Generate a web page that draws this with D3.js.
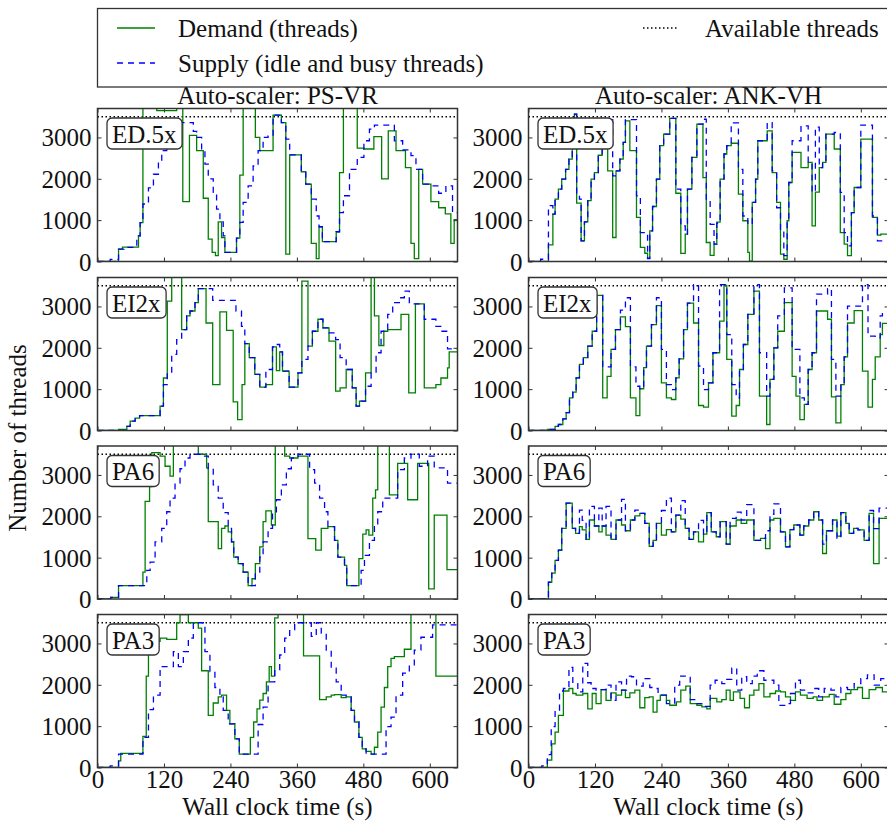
<!DOCTYPE html>
<html>
<head>
<meta charset="utf-8">
<title>Thread demand and supply</title>
<script src="https://cdnjs.cloudflare.com/ajax/libs/d3/7.8.5/d3.min.js"></script>
<style>
  html, body { margin: 0; background: #fff; }
  svg text { font-family: "Liberation Serif", "Times New Roman", serif; fill: #111; }
</style>
</head>
<body>
<svg id="chart" width="887" height="823"></svg>
<script>
// axis settings
var X_MAX = 650, Y_MAX = 3700, AVAILABLE = 3500;
var xTicks = [0, 120, 240, 360, 480, 600];
var yTicks = [0, 1000, 2000, 3000];
var scalers = ["PS-VR", "ANK-VH"];
var workloads = ["ED.5x", "EI2x", "PA6", "PA3"];

// [time (s), threads] change points of each step series
var psvrEd5xDemand = [[0,0],[38,300],[45,350],[74,620],[77,940],[82,4000],[107,3650],[143,4000],[154,1450],[166,3050],[179,2680],[191,1530],[200,540],[207,220],[213,140],[218,960],[224,580],[230,220],[251,565],[257,2090],[263,4000],[285,3000],[293,2680],[317,3540],[332,3360],[340,180],[347,2580],[368,2170],[376,1870],[386,440],[395,70],[400,840],[406,480],[431,720],[437,2150],[444,4000],[469,2740],[481,2720],[499,3020],[513,2000],[525,3160],[539,2680],[556,2270],[566,440],[572,70],[580,2230],[587,1870],[602,1450],[616,1300],[628,1150],[638,440],[644,1010]];
var psvrEd5xSupply = [[0,0],[23,50],[38,300],[48,340],[71,620],[77,940],[82,1390],[92,1780],[101,2110],[110,2435],[116,2680],[125,3000],[136,3360],[173,3145],[179,3000],[188,2680],[194,2355],[200,2000],[209,1670],[215,1265],[221,960],[227,620],[230,220],[251,565],[257,945],[263,1430],[272,1830],[281,2310],[290,2680],[299,3000],[308,3040],[317,3540],[332,3360],[340,2960],[347,2580],[368,2170],[376,1870],[386,1510],[395,1100],[400,840],[406,480],[431,720],[437,1180],[444,1590],[455,2230],[469,2520],[481,2920],[491,3200],[500,3300],[536,2920],[551,2700],[566,2560],[575,2230],[587,1870],[602,1830],[616,1650],[629,1830],[641,1180]];

var psvrEi2xDemand = [[0,0],[38,25],[53,100],[59,225],[68,300],[76,360],[113,590],[119,1270],[126,3130],[134,4000],[152,2440],[161,2770],[167,2890],[176,3090],[182,3430],[196,2600],[208,1110],[221,2870],[233,2420],[245,690],[253,265],[261,1110],[266,2100],[274,1760],[284,1355],[293,1050],[304,1110],[316,2020],[323,1450],[329,1900],[334,1435],[346,1050],[362,1395],[369,3610],[380,2040],[388,2400],[398,2690],[407,2480],[418,2160],[430,950],[438,1030],[449,1475],[460,1030],[467,590],[473,710],[484,1395],[494,4000],[500,2770],[508,2055],[517,2400],[524,2440],[548,2810],[562,910],[574,3060],[590,1030],[611,1110],[620,1270],[632,1515],[635,1900]];
var psvrEi2xSupply = [[0,0],[53,100],[59,225],[68,300],[76,360],[113,590],[119,1110],[126,1395],[134,1840],[143,2200],[152,2440],[161,2770],[167,2890],[176,3090],[182,3430],[208,3145],[250,2890],[260,2520],[266,2100],[274,1760],[284,1355],[293,1050],[304,1475],[316,2020],[323,2080],[329,1900],[334,1435],[346,1050],[362,1395],[369,1720],[380,2040],[388,2400],[398,2690],[407,2480],[418,2360],[430,2200],[438,1760],[449,1475],[460,1030],[467,590],[473,710],[484,1070],[494,1395],[503,1880],[512,2400],[524,2810],[533,3090],[545,3210],[554,3370],[563,3060],[590,2690],[611,2520],[620,2400],[632,1975]];

var psvrPa6Demand = [[0,0],[24,40],[38,325],[82,650],[86,2360],[94,2720],[98,3540],[113,3455],[122,3210],[131,2970],[137,4000],[182,3500],[197,3170],[200,1870],[218,1220],[224,1710],[230,1765],[236,1625],[242,1380],[246,1015],[254,855],[263,650],[272,325],[279,490],[285,855],[293,1260],[299,1870],[304,2130],[314,1790],[321,4000],[338,3455],[347,3410],[362,3455],[380,1460],[394,1180],[404,1710],[416,1750],[428,1420],[434,1015],[446,815],[450,325],[472,975],[479,1570],[485,1670],[490,1545],[497,2440],[502,2640],[506,4000],[527,2520],[542,3280],[560,2400],[578,3280],[598,245],[608,2030],[631,710]];
var psvrPa6Supply = [[0,0],[24,40],[38,325],[89,690],[95,890],[104,1380],[116,1710],[125,2110],[131,2440],[140,2800],[149,3150],[158,3410],[167,3500],[185,3455],[200,3150],[209,2760],[218,2440],[227,2090],[236,1710],[242,1380],[246,1015],[254,855],[263,650],[272,325],[285,610],[293,1015],[299,1380],[308,1710],[316,2070],[323,2400],[332,2760],[341,3150],[350,3410],[362,3500],[383,3130],[392,2800],[401,2440],[410,2110],[416,1750],[428,1420],[434,1015],[446,815],[450,325],[476,690],[482,1055],[491,1420],[500,1750],[506,2110],[515,2440],[542,3130],[554,3410],[566,3500],[581,3210],[596,3455],[608,3170],[632,2800]];

var psvrPa3Demand = [[0,0],[38,160],[42,340],[82,755],[88,2210],[92,3330],[98,3050],[113,3130],[125,3100],[143,3500],[149,3700],[164,3500],[182,3370],[188,2340],[200,1260],[209,1560],[218,1710],[224,1750],[233,1380],[239,1055],[248,690],[256,325],[276,730],[282,1100],[288,1420],[293,1630],[299,1790],[305,2070],[310,2440],[314,2210],[320,3620],[326,4000],[372,2700],[401,1640],[413,1710],[422,1750],[428,1760],[440,1690],[449,1710],[458,1380],[464,1100],[472,730],[478,450],[485,390],[494,325],[500,490],[506,855],[512,1460],[518,1935],[524,2440],[530,2640],[536,2680],[554,2860],[566,4000],[611,2210]];
var psvrPa3Supply = [[0,0],[23,40],[38,325],[82,730],[92,1400],[101,1750],[113,2440],[137,2800],[146,2440],[155,2800],[164,3130],[173,3500],[194,2800],[203,2320],[212,1935],[221,1710],[227,1380],[236,1055],[248,690],[256,325],[290,1040],[299,1460],[308,2070],[320,2360],[329,2720],[338,3130],[347,3330],[356,3500],[386,3170],[395,3500],[404,3250],[413,2840],[422,2400],[431,2070],[440,1750],[449,1710],[458,1380],[464,1100],[472,730],[478,450],[485,325],[521,990],[530,1220],[539,1750],[551,2280],[563,2480],[572,2840],[584,3150],[605,3450]];

var ankvhEd5xDemand = [[0,0],[36,400],[44,1145],[48,1510],[54,1750],[60,1990],[67,2230],[73,2475],[79,2800],[83,3565],[87,1410],[95,500],[101,960],[107,1470],[113,1990],[119,2150],[126,2570],[133,2840],[139,3120],[143,2190],[152,580],[158,2190],[165,2475],[171,2880],[175,3400],[183,2680],[195,1065],[202,340],[210,200],[215,80],[219,740],[224,1330],[231,1990],[237,2800],[244,3080],[255,3460],[266,1650],[275,195],[283,660],[287,1750],[295,2520],[304,3320],[315,2030],[321,460],[328,150],[335,420],[340,950],[346,1990],[353,2600],[358,2800],[366,2860],[379,1630],[387,985],[396,220],[399,10],[404,1430],[410,1990],[414,2920],[431,3160],[440,2150],[448,1430],[455,180],[461,55],[467,985],[470,1910],[476,2640],[492,2270],[505,2395],[512,860],[518,1680],[525,2270],[531,2395],[537,3080],[552,2720],[563,700],[570,420],[576,140],[583,1180],[588,1790],[600,2960],[621,1065],[630,640],[636,660]];
var ankvhEd5xSupply = [[0,0],[22,55],[36,1350],[44,1145],[48,1510],[54,1750],[60,1990],[67,2230],[73,2475],[79,2800],[83,3565],[87,1590],[92,1510],[95,500],[101,960],[107,1470],[113,1990],[119,2150],[126,2570],[133,2840],[139,3120],[143,3430],[152,2070],[158,2190],[165,2475],[171,2880],[175,3430],[195,1590],[202,700],[215,70],[219,740],[224,1330],[231,1990],[237,2800],[244,3080],[255,3460],[266,1750],[275,860],[283,660],[287,1750],[295,2520],[304,3320],[315,3440],[321,1510],[328,900],[335,420],[340,925],[346,1990],[353,2600],[358,2800],[366,3350],[379,2230],[387,1100],[396,900],[404,1430],[410,1990],[414,2920],[431,3360],[440,2190],[448,1300],[455,740],[461,140],[467,985],[470,1910],[476,2920],[492,3280],[505,2350],[512,1680],[518,3250],[525,2270],[531,2395],[537,3080],[552,3120],[563,1670],[570,700],[576,380],[583,1180],[588,1790],[600,3300],[621,1100],[630,500]];

var ankvhEi2xDemand = [[0,0],[34,25],[48,100],[54,145],[62,280],[68,430],[74,790],[80,930],[86,1275],[92,1600],[99,1760],[107,2040],[115,2400],[123,3270],[134,790],[142,1310],[149,1960],[157,2440],[166,2750],[175,2510],[184,790],[194,360],[201,1010],[208,1520],[213,2040],[222,2560],[231,3020],[240,1150],[249,790],[258,750],[266,1275],[272,1730],[280,2440],[287,3080],[298,2600],[307,605],[316,565],[325,1150],[333,1880],[345,2645],[353,3510],[358,1720],[367,350],[375,605],[381,1475],[388,2080],[396,2810],[407,3370],[417,830],[430,145],[436,1235],[443,2000],[450,2400],[462,3090],[476,1310],[483,830],[490,265],[498,630],[505,1475],[512,1880],[520,2890],[540,2690],[547,815],[555,185],[564,1110],[570,1780],[576,2600],[588,2900],[603,1435],[613,565],[621,1235],[626,1780],[635,2320],[639,2590]];
var ankvhEi2xSupply = [[0,0],[34,25],[48,100],[54,145],[62,280],[68,430],[74,790],[80,930],[86,1275],[92,1600],[99,1760],[107,2040],[115,2400],[123,3270],[134,1540],[149,1960],[157,2440],[166,2910],[175,3210],[184,1540],[194,1070],[201,1010],[208,1520],[213,2040],[222,2560],[231,3210],[240,1960],[249,1110],[258,990],[266,1275],[272,1730],[280,2440],[287,3080],[298,3530],[307,1560],[316,990],[325,1150],[333,1880],[345,3530],[358,2320],[367,1110],[375,790],[381,1475],[388,2080],[396,2810],[407,3530],[417,1880],[430,830],[436,1235],[443,2000],[450,2770],[462,3450],[476,1960],[490,790],[498,630],[505,1475],[512,1880],[520,3300],[540,3430],[547,1720],[555,830],[564,1110],[570,1780],[576,3010],[603,3530],[613,2280],[626,2240],[635,2770],[639,2850]];

var ankvhPa6Demand = [[0,0],[36,405],[42,625],[48,935],[54,1180],[60,1710],[68,2320],[79,1710],[85,1585],[92,1750],[97,1670],[104,1440],[110,1910],[119,1765],[127,1625],[133,1765],[140,1545],[149,1440],[158,1910],[168,1790],[175,1650],[184,1910],[192,2010],[201,2070],[210,1830],[218,1275],[225,1420],[231,1830],[240,1545],[249,1680],[258,1625],[266,2030],[275,1930],[283,1710],[290,1440],[298,1625],[307,1380],[316,1570],[322,2090],[330,1625],[339,1505],[346,1870],[357,1325],[364,1765],[375,1910],[384,1830],[394,1910],[407,1420],[419,1465],[428,1220],[436,1910],[443,1950],[455,1625],[464,1260],[472,1680],[479,1790],[490,1545],[497,1765],[506,1910],[515,2110],[524,1910],[531,1100],[538,1650],[549,1910],[557,1520],[564,2090],[573,1830],[579,1585],[587,1710],[595,1670],[606,1420],[615,2070],[623,855],[633,1950]];
var ankvhPa6Supply = [[0,0],[36,405],[42,625],[48,935],[54,1180],[60,1710],[68,2320],[79,1710],[85,1585],[92,2150],[97,1900],[104,1440],[110,2240],[119,1765],[127,2200],[133,1765],[140,2240],[149,1440],[158,1910],[168,2410],[175,1650],[184,1910],[192,2150],[201,2070],[210,1830],[218,1275],[225,1420],[231,1830],[240,2140],[249,2440],[258,1625],[266,2030],[275,2380],[283,1710],[290,1440],[298,1625],[307,1900],[316,1570],[322,2090],[330,1625],[339,1505],[346,1870],[357,1325],[364,1950],[375,2100],[384,1910],[394,2280],[407,1420],[419,1465],[428,1650],[436,2050],[443,2300],[455,1625],[464,1260],[472,1680],[479,1790],[490,1545],[497,1765],[506,1910],[515,2110],[524,1910],[531,1325],[538,1650],[549,1910],[557,1465],[564,2090],[573,1830],[579,1585],[587,1710],[595,1670],[606,1420],[615,2140],[623,1700],[633,2200]];

var ankvhPa3Demand = [[0,0],[34,180],[42,570],[48,855],[54,1260],[63,1850],[73,1910],[80,1790],[86,1750],[98,1790],[107,1420],[115,1790],[122,1545],[131,1885],[140,1625],[149,1805],[158,1750],[168,1870],[175,1690],[183,1805],[192,1870],[201,1445],[210,1690],[218,1710],[225,1340],[232,1625],[238,1750],[249,1625],[255,1505],[267,1585],[275,1870],[284,1970],[292,1545],[304,1505],[313,1465],[322,1420],[328,1670],[340,1585],[349,1640],[357,1870],[364,1625],[370,1830],[382,1670],[390,1445],[399,1750],[407,1870],[416,2030],[425,1710],[436,1790],[446,1850],[455,1830],[464,1710],[473,1625],[482,1830],[491,1750],[503,1670],[514,1710],[521,1625],[531,1710],[543,1770],[552,1530],[564,1640],[573,1790],[582,1885],[594,1935],[603,1670],[615,1885],[627,1935],[639,1830]];
var ankvhPa3Supply = [[0,0],[24,40],[34,310],[41,990],[48,1380],[56,1850],[63,1910],[73,2420],[80,2030],[89,1830],[98,2520],[107,2050],[113,1910],[122,1870],[131,1885],[140,1990],[149,1625],[158,2070],[168,1870],[177,2210],[186,2195],[195,1970],[207,2150],[219,1935],[228,1910],[234,1750],[249,1545],[264,1990],[273,2210],[283,2180],[292,1640],[304,1545],[316,1480],[328,1990],[337,2110],[349,2030],[358,2130],[367,2400],[376,1870],[385,2195],[394,2030],[404,2210],[413,2340],[425,2110],[434,2110],[443,1990],[452,1500],[464,1545],[473,1790],[482,2110],[491,1870],[503,1805],[515,1910],[524,1710],[534,1910],[546,1870],[555,1710],[564,1935],[576,1885],[588,2030],[600,2150],[612,2240],[624,1990],[636,2150]];

var demandSeries = [
  [psvrEd5xDemand, ankvhEd5xDemand],
  [psvrEi2xDemand, ankvhEi2xDemand],
  [psvrPa6Demand, ankvhPa6Demand],
  [psvrPa3Demand, ankvhPa3Demand]
];
var supplySeries = [
  [psvrEd5xSupply, ankvhEd5xSupply],
  [psvrEi2xSupply, ankvhEi2xSupply],
  [psvrPa6Supply, ankvhPa6Supply],
  [psvrPa3Supply, ankvhPa3Supply]
];

var svg = d3.select('#chart');
var colLeft = [97.5, 528.5], colWidth = 360;
var rowTop = [108.5, 277.5, 446, 614.5], rowHeight = 153;
var ink = '#333';
var FS = 25;

var x = d3.scaleLinear().domain([0, X_MAX]).range([0, colWidth]);
var y = d3.scaleLinear().domain([0, Y_MAX]).range([rowHeight, 0]);

var step = d3.line()
    .x(function(d){ return x(d[0]); })
    .y(function(d){ return y(d[1]); })
    .curve(d3.curveStepAfter);

function withEnd(data) {
  return data.concat([[X_MAX, data[data.length - 1][1]]]);
}

workloads.forEach(function(wl, r) {
  scalers.forEach(function(sc, c) {
    var g = svg.append('g')
        .attr('transform', 'translate(' + colLeft[c] + ',' + rowTop[r] + ')');
    var clipId = 'clip-' + r + '-' + c;
    g.append('clipPath').attr('id', clipId)
      .append('rect').attr('width', colWidth).attr('height', rowHeight);

    var plot = g.append('g').attr('clip-path', 'url(#' + clipId + ')');

    plot.append('line')
        .attr('x1', 0).attr('x2', colWidth)
        .attr('y1', y(AVAILABLE)).attr('y2', y(AVAILABLE))
        .attr('stroke', '#000').attr('stroke-width', 1.5)
        .attr('stroke-dasharray', '1.5,2.5');

    plot.append('path')
        .datum(withEnd(demandSeries[r][c]))
        .attr('d', step)
        .attr('fill', 'none').attr('stroke', '#008000').attr('stroke-width', 1.3);

    plot.append('path')
        .datum(withEnd(supplySeries[r][c]))
        .attr('d', step)
        .attr('fill', 'none').attr('stroke', '#0000ff').attr('stroke-width', 1.3)
        .attr('stroke-dasharray', '6,5');

    // inward ticks on all four sides
    var bottom = g.append('g').attr('transform', 'translate(0,' + rowHeight + ')')
        .call(d3.axisBottom(x).tickValues(xTicks).tickSizeInner(-4).tickSizeOuter(0)
          .tickPadding(3).tickFormat(r === 3 ? d3.format('d') : ''));
    var top = g.append('g')
        .call(d3.axisTop(x).tickValues(xTicks).tickSizeInner(-4).tickSizeOuter(0).tickFormat(''));
    var left = g.append('g')
        .call(d3.axisLeft(y).tickValues(yTicks).tickSizeInner(-4).tickSizeOuter(0)
          .tickPadding(6).tickFormat(d3.format('d')));
    var right = g.append('g').attr('transform', 'translate(' + colWidth + ',0)')
        .call(d3.axisRight(y).tickValues(yTicks).tickSizeInner(-4).tickSizeOuter(0).tickFormat(''));

    [bottom, top, left, right].forEach(function(a) {
      a.select('.domain').remove();
      a.selectAll('.tick line').attr('stroke', ink).attr('stroke-width', 1);
      a.selectAll('.tick text').attr('font-size', FS)
        .attr('font-family', '"Liberation Serif", serif').attr('fill', '#111');
    });
    left.selectAll('.tick text').attr('dy', '0.34em');

    g.append('rect')
        .attr('width', colWidth).attr('height', rowHeight)
        .attr('fill', 'none').attr('stroke', ink).attr('stroke-width', 1.5);

    // workload label in a rounded box
    var lab = g.append('g').attr('transform', 'translate(9.5,9.5)');
    var box = lab.append('rect').attr('rx', 5).attr('ry', 5)
        .attr('fill', '#fff').attr('stroke', ink).attr('stroke-width', 1.3);
    var txt = lab.append('text').attr('x', 5).attr('y', 24.5)
        .attr('font-size', FS).text(wl);
    var bb = txt.node().getBBox();
    box.attr('width', bb.width + 10).attr('height', 31);

    if (r === 0) {
      svg.append('text')
          .attr('x', colLeft[c] + colWidth / 2).attr('y', rowTop[0] - 5)
          .attr('text-anchor', 'middle').attr('font-size', FS)
          .text('Auto-scaler: ' + sc);
    }
    if (r === 3) {
      svg.append('text')
          .attr('x', colLeft[c] + colWidth / 2).attr('y', 815)
          .attr('text-anchor', 'middle').attr('font-size', FS)
          .text('Wall clock time (s)');
    }
  });
});

svg.append('text')
    .attr('transform', 'translate(26,' + ((rowTop[0] + rowTop[3] + rowHeight) / 2) + ') rotate(-90)')
    .attr('text-anchor', 'middle').attr('font-size', FS)
    .text('Number of threads');

// legend
var leg = svg.append('g');
leg.append('rect').attr('x', 97.5).attr('y', 8.5).attr('width', 820).attr('height', 78.5)
    .attr('fill', '#fff').attr('stroke', ink).attr('stroke-width', 1.3);
leg.append('line').attr('x1', 117).attr('x2', 155).attr('y1', 28).attr('y2', 28)
    .attr('stroke', '#008000').attr('stroke-width', 1.3);
leg.append('text').attr('x', 178).attr('y', 37).attr('font-size', FS).text('Demand (threads)');
leg.append('line').attr('x1', 117).attr('x2', 155).attr('y1', 63).attr('y2', 63)
    .attr('stroke', '#0000ff').attr('stroke-width', 1.3).attr('stroke-dasharray', '6,5');
leg.append('text').attr('x', 178).attr('y', 72).attr('font-size', FS).text('Supply (idle and busy threads)');
leg.append('line').attr('x1', 643).attr('x2', 678).attr('y1', 28).attr('y2', 28)
    .attr('stroke', '#000').attr('stroke-width', 1.5).attr('stroke-dasharray', '1.5,2.5');
leg.append('text').attr('x', 705).attr('y', 37).attr('font-size', FS).text('Available threads');
</script>
</body>
</html>
